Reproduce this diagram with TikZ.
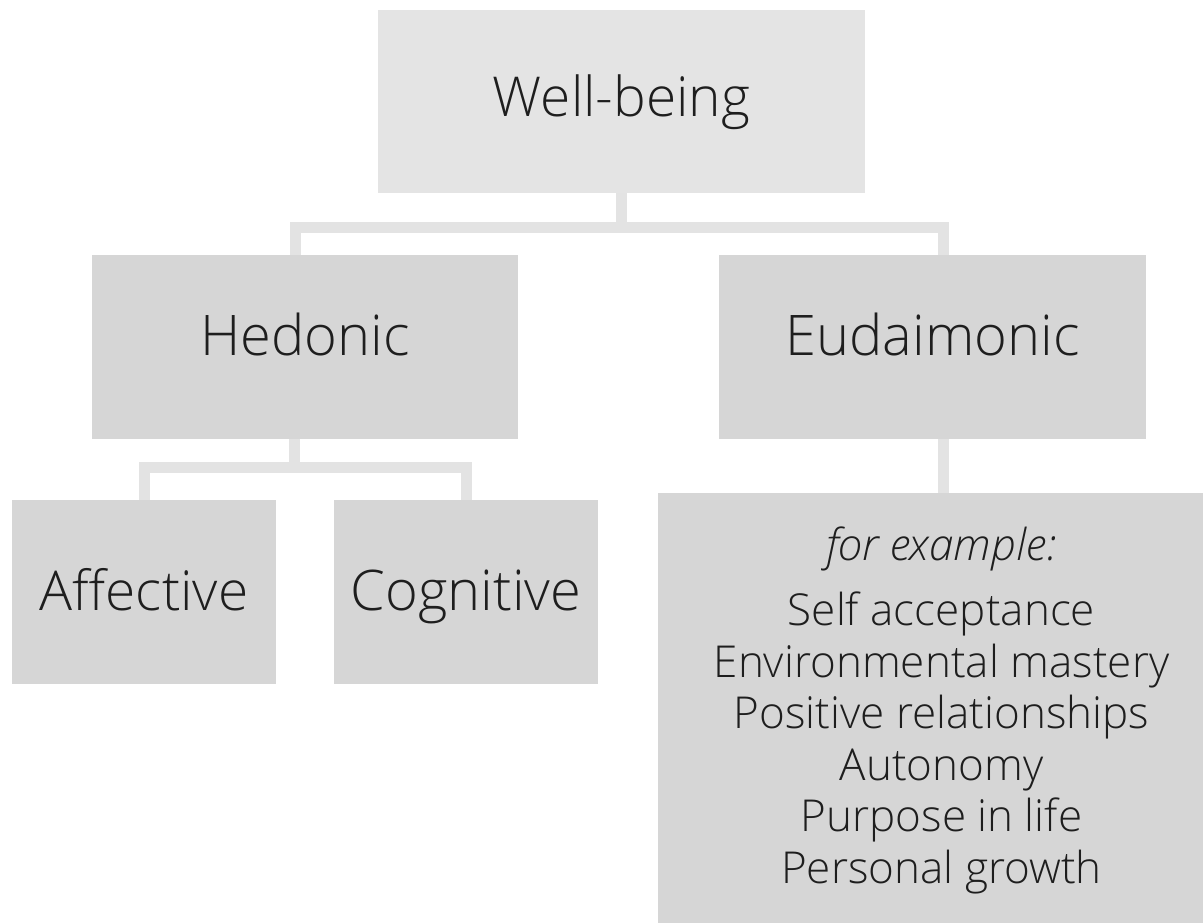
\documentclass[tikz,border=0pt]{standalone}
\usepackage{fontspec}
\setmainfont{Open Sans}[UprightFont={* Light}, ItalicFont={* Light Italic}]
\usepackage{xcolor}
\usepackage{tikz}

\definecolor{boxtop}{HTML}{E4E4E4}
\definecolor{boxgray}{HTML}{D6D6D6}
\definecolor{linkgray}{HTML}{E3E3E3}
\definecolor{txtgray}{HTML}{1E1E1E}

\tikzset{
  box/.style={fill=boxgray, inner sep=0pt, text=txtgray, align=center},
  lift/.style={text height=#1, text depth=0pt},
  link/.style={draw=linkgray, line width=11pt}
}

\begin{document}
\begin{tikzpicture}[x=1pt, y=-1pt]
  \useasboundingbox[fill=white] (0,0) rectangle (1203,923);

  % top level
  \node[box, fill=boxtop, minimum width=487pt, minimum height=183pt, lift=30pt,
        font=\fontsize{55}{60}\selectfont] (well) at (621.5,101.5) {Well-being};

  % second level
  \node[box, minimum width=426pt, minimum height=184pt, lift=17.4pt,
        font=\fontsize{56}{62}\selectfont] (hed) at (305,347) {Hedonic};
  \node[box, minimum width=427pt, minimum height=184pt, lift=17.4pt,
        font=\fontsize{56}{62}\selectfont] (eud) at (932.5,347) {Eudaimonic};

  % third level
  \node[box, minimum width=264pt, minimum height=184pt, lift=36pt,
        font=\fontsize{55}{60}\selectfont] (aff) at (144,592) {Affective};
  \node[box, minimum width=264pt, minimum height=184pt, lift=36pt,
        font=\fontsize{56}{60}\selectfont] (cog) at (466,592) {Cognitive};
  \node[box, minimum width=545pt, minimum height=430pt] (ex) at (930.5,708) {};
  \node[text=txtgray, align=center, inner sep=0pt,
        font=\fontsize{44}{51.5}\selectfont] (exlist) at (941.5,710.5)
        {\textit{for example:}\\[13.5pt]Self acceptance\\Environmental mastery\\
         Positive relationships\\Autonomy\\Purpose in life\\Personal growth};

  % connectors
  \coordinate (wbar) at (621.5,227);
  \draw[link] (well.south) -- (wbar) -| ([xshift=-10pt]hed.north);
  \draw[link] (wbar) -| ([xshift=10.5pt]eud.north);

  \coordinate (hbar) at (294,467.5);
  \draw[link] ([xshift=-11pt]hed.south) -- (hbar) -| (aff.north);
  \draw[link] (hbar) -| (cog.north);

  \draw[link] ([xshift=10.5pt]eud.south) -- ([xshift=12.5pt]ex.north);
\end{tikzpicture}
\end{document}
